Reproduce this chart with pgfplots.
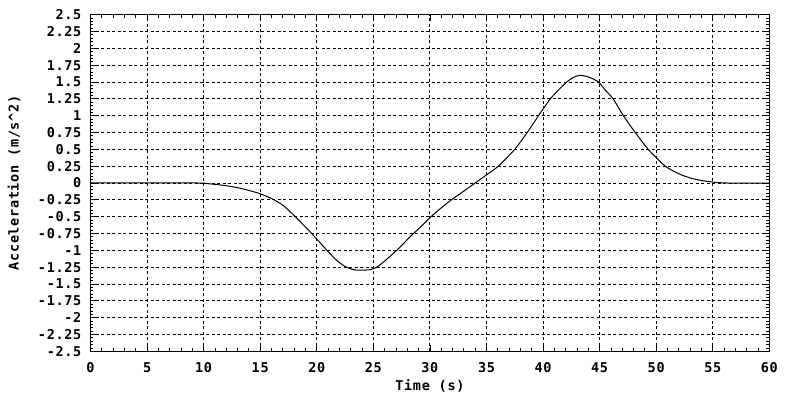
\documentclass[border=0pt]{standalone}
\usepackage{fontspec}
\usepackage{pgfplots}
\pgfplotsset{compat=1.18}
\newfontfamily\gfont{DejaVu Sans Mono}[LetterSpace=5]
\newcommand{\gf}{\gfont\bfseries\fontsize{13.5bp}{14bp}\selectfont}
\begin{document}
\begin{tikzpicture}
\fill[white] (-90.5bp,-48.7bp) rectangle (709.5bp,351.3bp);
\begin{axis}[
  scale only axis,
  width=678.8bp, height=336.6bp,
  xmin=0, xmax=60, ymin=-2.5, ymax=2.5,
  xtick distance=5, ytick distance=0.25,
  minor x tick num=4, minor y tick num=4,
  tick align=inside,
  major tick length=6bp, minor tick length=3bp,
  every tick/.style={black, line width=0.8bp},
  axis line style={black, line width=1bp},
  grid=major,
  major grid style={black, line width=0.9bp, dash pattern=on 3bp off 2.5bp},
  /pgf/number format/.cd, fixed, precision=2, assume math mode=true,
  /pgfplots/.cd,
  ticklabel style={font=\gf},
  xticklabel style={anchor=base, yshift=-21.5bp, inner sep=0pt},
  yticklabel style={anchor=east, xshift=-9bp, inner sep=0pt},
  xlabel={Time (s)},
  ylabel={Acceleration (m/s\textasciicircum 2)},
  label style={font=\gf},
  xlabel style={at={(axis description cs:0.5,-0.115)}, anchor=base, inner sep=0pt},
  ylabel style={at={(axis description cs:-0.1127,0.5)}, anchor=center, inner sep=0pt},
]
\addplot[black, line width=1bp, line join=round, smooth, tension=0.4] coordinates {
(0,0) (9.5,0) (10,-0.005) (11,-0.02) (12,-0.04) (13,-0.07) (14,-0.11)
(15,-0.16) (16,-0.23) (17,-0.33) (18.1,-0.5) (19.55,-0.75)
(20.9,-1.0) (21.7,-1.14) (22.5,-1.24) (23.3,-1.29) (24,-1.295) (24.8,-1.285)
(25.4,-1.24) (26.2,-1.13) (27.2,-0.98) (28.3,-0.79) (29.2,-0.65) (30.1,-0.5)
(31,-0.37) (31.9,-0.25) (33,-0.12) (34,0) (35,0.12) (36.05,0.25) (37.5,0.5)
(38.6,0.75) (39.6,1.0) (40.6,1.24) (41.3,1.37) (42.1,1.5) (42.7,1.57)
(43.3,1.6) (44.1,1.57) (44.9,1.5) (45.5,1.38) (46.2,1.25) (47.1,1.0)
(48.15,0.75) (49.3,0.5) (50.8,0.25) (52.1,0.13) (53,0.075) (53.9,0.04)
(55.1,0.012) (56.3,0) (60,0)
};
\end{axis}
\pgfresetboundingbox
\useasboundingbox (-90.5bp,-48.7bp) rectangle (709.5bp,351.3bp);
\end{tikzpicture}
\end{document}
